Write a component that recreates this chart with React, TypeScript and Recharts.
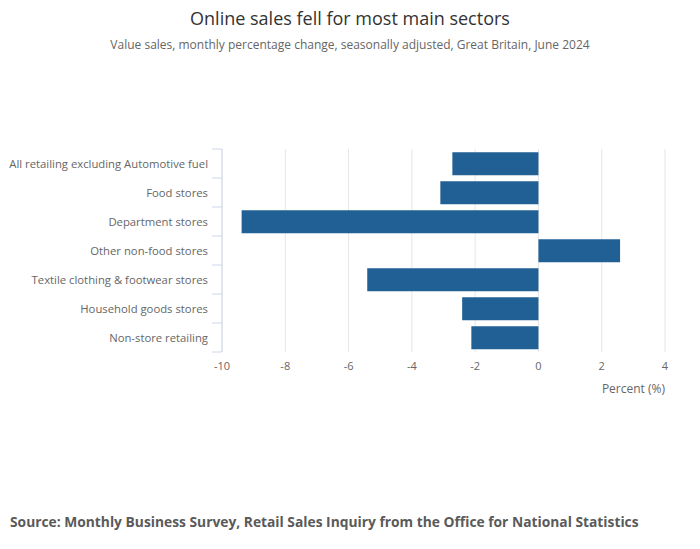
import React from "react";
import { BarChart, Bar, XAxis, YAxis, CartesianGrid } from "recharts";

const sectors = [
  "All retailing excluding Automotive fuel",
  "Food stores",
  "Department stores",
  "Other non-food stores",
  "Textile clothing & footwear stores",
  "Household goods stores",
  "Non-store retailing",
];
const changes = [-2.72, -3.1, -9.38, 2.58, -5.41, -2.41, -2.12];
const xTicks = [-10, -8, -6, -4, -2, 0, 2, 4];

const data = sectors.map((name, i) => ({ name, value: changes[i] }));

const font = '"Open Sans", sans-serif';
const axisBlue = "#ccd6eb";
const halfBand = 14.5;

// category ticks sit between the bands, like the original
const CategoryTick = (props: any) => {
  const { x, y, payload, index } = props;
  const last = index === sectors.length - 1;
  return (
    <g>
      <line x1={x + 4} x2={x + 14} y1={y - halfBand} y2={y - halfBand} stroke={axisBlue} strokeWidth={1} />
      {last && <line x1={x + 4} x2={x + 14} y1={y + halfBand} y2={y + halfBand} stroke={axisBlue} strokeWidth={1} />}
      <text x={x} y={y} dy={4} textAnchor="end" fill="#666" fontSize={11.3} fontFamily={font}>
        {payload.value}
      </text>
    </g>
  );
};

export default function App() {
  return (
    <div style={{ position: "absolute", left: 0, top: 0, width: 700, height: 549, background: "#fff", fontFamily: font }}>
      <div style={{ position: "absolute", top: 6, width: 700, textAlign: "center", fontSize: 18, color: "#333" }}>
        Online sales fell for most main sectors
      </div>
      <div style={{ position: "absolute", top: 36, width: 700, textAlign: "center", fontSize: 12, color: "#666" }}>
        Value sales, monthly percentage change, seasonally adjusted, Great Britain, June 2024
      </div>
      <BarChart
        width={700}
        height={549}
        data={data}
        layout="vertical"
        margin={{ top: 149, right: 35, bottom: 167, left: 0 }}
        barCategoryGap="11%"
      >
        <CartesianGrid horizontal={false} stroke="#e6e6e6" />
        <XAxis
          type="number"
          domain={[-10, 4]}
          ticks={xTicks}
          axisLine={false}
          tickLine={false}
          tickMargin={4}
          height={30}
          tick={{ fill: "#666", fontSize: 11, fontFamily: font }}
        />
        <YAxis
          type="category"
          dataKey="name"
          width={222}
          axisLine={{ stroke: axisBlue }}
          tickLine={false}
          tickSize={10}
          tickMargin={4}
          interval={0}
          tick={<CategoryTick />}
        />
        <Bar dataKey="value" fill="#206095" isAnimationActive={false} />
      </BarChart>
      <div style={{ position: "absolute", top: 380, right: 35, fontSize: 12, color: "#666" }}>Percent (%)</div>
      <div style={{ position: "absolute", top: 512, left: 10, fontSize: 13.8, fontWeight: 700, color: "#5a5a5a" }}>
        Source: Monthly Business Survey, Retail Sales Inquiry from the Office for National Statistics
      </div>
    </div>
  );
}
